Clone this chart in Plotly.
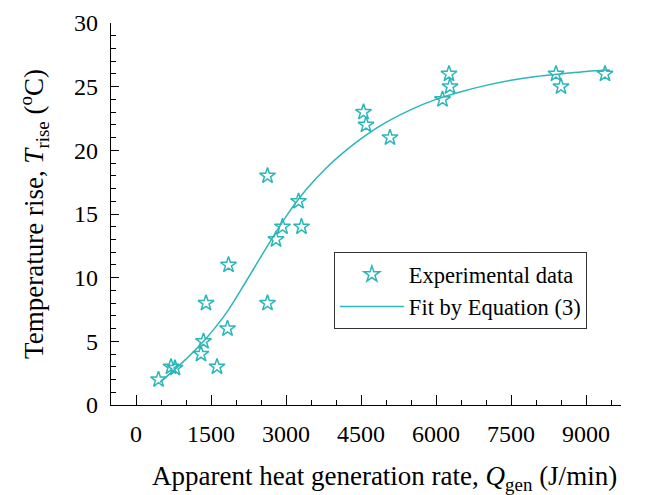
import plotly.graph_objects as go

exp_q = [450, 700, 780, 1300, 1350, 1400, 1620, 1830, 1850, 2630, 2630, 2800, 2930,
         3250, 3310, 4550, 4600, 5080, 6130, 6260, 6280, 8400, 8500, 9380]
exp_t = [2, 3, 2.9, 4, 5, 8, 3, 6, 11, 18, 8, 13, 14,
         16, 14, 23, 22, 21, 24, 26, 25, 26, 25, 26]

# Fit curve
fit_q = [480, 750, 1000, 1350, 1800, 2200, 2600, 3000, 3400, 3800, 4200, 4600,
         5000, 5500, 6000, 6500, 7000, 7500, 8000, 8500, 9000, 9480]
fit_t = [1.8, 2.7, 3.6, 5.0, 7.2, 9.7, 12.3, 14.8, 16.9, 18.6, 20.0, 21.2,
         22.2, 23.2, 24.0, 24.6, 25.1, 25.5, 25.8, 26.0, 26.2, 26.3]

x_ticks = [0, 1500, 3000, 4500, 6000, 7500, 9000]
y_ticks = [0, 5, 10, 15, 20, 25, 30]

x_title = "Apparent heat generation rate, <i>Q</i><sub>gen</sub> (J/min)"
y_title = "Temperature rise, <i>T</i><sub>rise</sub> (<sup>o</sup>C)"

teal = "#2bb6b8"
font_family = "Liberation Serif, Times New Roman, serif"

fig = go.Figure()
fig.add_trace(go.Scatter(
    x=exp_q, y=exp_t, mode="markers", name="Experimental data",
    marker=dict(symbol="star-open", size=12, color=teal, line=dict(width=1.5, color=teal)),
))
fig.add_trace(go.Scatter(
    x=fit_q, y=fit_t, mode="lines", name="Fit by Equation (3)",
    line=dict(color=teal, width=1.5, shape="spline"),
))

axis_common = dict(
    showline=True, linecolor="black", linewidth=1.2, mirror=False,
    ticks="inside", tickcolor="black", tickwidth=1.2,
    showgrid=False, zeroline=False, automargin=False,
    tickfont=dict(family=font_family, size=24, color="black"),
)

fig.update_xaxes(
    **axis_common,
    range=[-500, 9700], tickmode="array", tickvals=x_ticks,
    ticktext=[str(v) for v in x_ticks], ticklen=10, ticklabelstandoff=7,
    minor=dict(dtick=500, tick0=0, ticks="inside", ticklen=5, tickcolor="black", tickwidth=1),
)
fig.update_yaxes(
    **axis_common,
    range=[0, 30], tickmode="array", tickvals=y_ticks,
    ticktext=[str(v) for v in y_ticks], ticklen=8, ticklabelstandoff=7,
    minor=dict(dtick=1, tick0=0, ticks="inside", ticklen=5, tickcolor="black", tickwidth=1),
    title=dict(text=y_title,
               font=dict(family=font_family, size=27, color="black"), standoff=22),
)

fig.add_annotation(
    text=x_title, xref="paper", yref="paper", x=0.537, y=0,
    xanchor="center", yanchor="middle", yshift=-73, showarrow=False,
    font=dict(family=font_family, size=27, color="black"),
)

fig.update_layout(
    width=641, height=487,
    margin=dict(l=103, r=28, t=15, b=90),
    paper_bgcolor="white", plot_bgcolor="white",
    showlegend=True,
    legend=dict(
        x=0.437, y=0.40, xanchor="left", yanchor="top",
        bordercolor="#333333", borderwidth=1, bgcolor="white",
        font=dict(family=font_family, size=22.5, color="black"),
        itemwidth=64, tracegroupgap=0,
    ),
)

fig.write_html("out.html")
